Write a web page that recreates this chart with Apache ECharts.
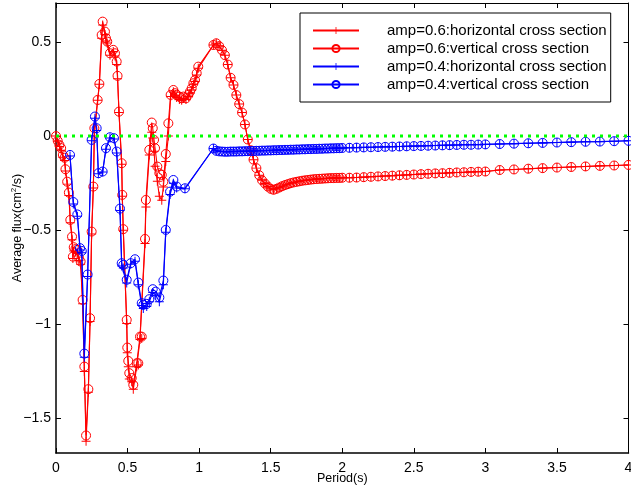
<!DOCTYPE html>
<html><head><meta charset="utf-8">
<script src="https://cdn.jsdelivr.net/npm/echarts@6/dist/echarts.min.js"></script>
<style>html,body{margin:0;padding:0;background:#fff}#c{width:631px;height:491px}</style>
</head><body><div id="c"></div>
<script>
// ---- tick labels ----
const xTicks = [0, 0.5, 1, 1.5, 2, 2.5, 3, 3.5, 4];
const yTicks = [-1.5, -1, -0.5, 0, 0.5];

// ---- amp = 0.6 (red) ----
const redEarlyPeriod = [0.000,0.012,0.024,0.036,0.048,0.060,0.066,0.078,0.090,0.100,0.112,0.118,0.124,0.136,0.148,0.160,0.172,0.186,0.198,0.210,0.226,0.238,0.249,0.261,0.268,0.291,0.303,0.319,0.326,0.342,0.349,0.358,0.377,0.400,0.412,0.424,0.430,0.440,0.459,0.463,0.470,0.494,0.498,0.505,0.512,0.529,0.540,0.564,0.575,0.587,0.599,0.622,0.628,0.652,0.669,0.676,0.685,0.692,0.708,0.722,0.739,0.750,0.767,0.785,0.801,0.820,0.832,0.843,0.862,0.878,0.890,0.908,0.925,0.936,0.948,0.960,0.971,0.983,0.994];
const redEarlyVert = [0.000,-0.025,-0.047,-0.064,-0.100,-0.115,-0.176,-0.242,-0.300,-0.445,-0.534,-0.640,-0.590,-0.600,-0.604,-0.645,-0.666,-0.870,-1.224,-1.590,-1.344,-0.967,-0.507,-0.268,0.042,0.192,0.277,0.537,0.608,0.555,0.520,0.502,0.440,0.458,0.440,0.396,0.320,0.130,-0.144,-0.312,-0.494,-0.976,-1.123,-1.194,-1.259,-1.285,-1.321,-1.206,-1.206,-1.065,-1.065,-0.546,-0.339,-0.073,0.072,0.042,-0.020,-0.064,-0.162,-0.197,-0.206,-0.242,-0.095,0.068,0.219,0.245,0.228,0.219,0.210,0.201,0.210,0.201,0.219,0.236,0.254,0.281,0.298,0.334,0.369];
const redEarlyHorz = [0.000,-0.030,-0.055,-0.075,-0.112,-0.130,-0.185,-0.255,-0.315,-0.460,-0.550,-0.650,-0.610,-0.615,-0.620,-0.660,-0.680,-0.890,-1.250,-1.620,-1.360,-0.985,-0.520,-0.275,0.000,0.190,0.275,0.520,0.590,0.540,0.505,0.495,0.430,0.450,0.425,0.380,0.305,0.125,-0.150,-0.320,-0.500,-0.995,-1.150,-1.225,-1.290,-1.305,-1.345,-1.225,-1.215,-1.080,-1.075,-0.570,-0.376,-0.100,0.020,-0.010,-0.080,-0.160,-0.240,-0.320,-0.340,-0.270,-0.135,0.000,0.210,0.235,0.215,0.205,0.195,0.190,0.200,0.195,0.210,0.228,0.245,0.275,0.290,0.325,0.360];

// ---- shared long-period sampling ----
const tailPeriod = [1.10,1.12,1.14,1.16,1.18,1.20,1.22,1.24,1.26,1.28,1.30,1.32,1.34,1.36,1.38,1.40,1.42,1.44,1.46,1.48,1.50,1.52,1.54,1.56,1.58,1.60,1.62,1.64,1.66,1.68,1.70,1.72,1.74,1.76,1.78,1.80,1.82,1.84,1.86,1.88,1.90,1.92,1.94,1.96,1.98,2.00,
  2.05,2.10,2.15,2.20,2.25,2.30,2.35,2.40,2.45,2.50,2.55,2.60,2.65,2.70,2.75,2.80,2.85,2.90,2.95,3.00,
  3.1,3.2,3.3,3.4,3.5,3.6,3.7,3.8,3.9,4.0];
const redTailFlux = [0.484,0.493,0.478,0.456,0.430,0.380,0.310,0.272,0.218,0.170,0.125,0.062,-0.018,-0.075,-0.125,-0.170,-0.208,-0.235,-0.252,-0.268,-0.280,-0.285,-0.280,-0.273,-0.266,-0.260,-0.255,-0.250,-0.246,-0.243,-0.240,-0.237,-0.235,-0.233,-0.231,-0.229,-0.228,-0.227,-0.226,-0.225,-0.224,-0.223,-0.223,-0.222,-0.222,-0.221,
  -0.221,-0.220,-0.218,-0.216,-0.214,-0.212,-0.210,-0.208,-0.206,-0.204,-0.202,-0.200,-0.198,-0.197,-0.195,-0.193,-0.192,-0.190,-0.189,-0.188,
  -0.180,-0.177,-0.173,-0.170,-0.167,-0.164,-0.161,-0.158,-0.156,-0.153];

// ---- amp = 0.4 (blue) ----
const blueEarlyPeriod = [0.098,0.121,0.149,0.168,0.180,0.198,0.221,0.249,0.272,0.284,0.296,0.326,0.349,0.377,0.405,0.424,0.447,0.459,0.470,0.494,0.522,0.552,0.575,0.599,0.610,0.634,0.652,0.676,0.697,0.722,0.750,0.767,0.797,0.820,0.843,0.901];
const blueEarlyVert = [-0.100,-0.350,-0.416,-0.595,-0.610,-1.155,-0.735,-0.020,0.104,0.042,-0.197,-0.188,-0.064,-0.006,-0.011,-0.082,-0.385,-0.675,-0.684,-0.763,-0.675,-0.654,-0.778,-0.887,-0.896,-0.891,-0.866,-0.813,-0.826,-0.857,-0.767,-0.498,-0.295,-0.233,-0.268,-0.277];
const blueEarlyHorz = [-0.105,-0.360,-0.425,-0.605,-0.620,-1.175,-0.745,-0.025,0.095,0.030,-0.200,-0.190,-0.070,-0.010,-0.015,-0.090,-0.395,-0.690,-0.700,-0.780,-0.680,-0.665,-0.790,-0.900,-0.915,-0.905,-0.880,-0.830,-0.845,-0.880,-0.790,-0.510,-0.310,-0.250,-0.275,-0.280];
const blueTailFlux = [-0.066,-0.078,-0.081,-0.082,-0.083,-0.083,-0.082,-0.082,-0.082,-0.081,-0.081,-0.080,-0.080,-0.079,-0.079,-0.078,-0.078,-0.077,-0.077,-0.076,-0.076,-0.075,-0.075,-0.074,-0.074,-0.073,-0.073,-0.072,-0.072,-0.071,-0.071,-0.070,-0.070,-0.069,-0.069,-0.068,-0.068,-0.067,-0.067,-0.066,-0.066,-0.065,-0.065,-0.064,-0.064,-0.063,
  -0.062,-0.061,-0.060,-0.059,-0.058,-0.057,-0.056,-0.055,-0.054,-0.053,-0.052,-0.051,-0.050,-0.049,-0.048,-0.047,-0.046,-0.046,-0.045,-0.044,
  -0.042,-0.040,-0.038,-0.036,-0.034,-0.032,-0.030,-0.029,-0.027,-0.025];

const zeroLine = [[0, 0], [4, 0]];

const seriesNames = ['amp=0.6:horizontal cross section','amp=0.6:vertical cross section','amp=0.4:horizontal cross section','amp=0.4:vertical cross section'];

// ---- build ----
function pairs(px, py) { return px.map((p, i) => [p, py[i]]); }
const redPeriod = redEarlyPeriod.concat(tailPeriod);
const bluePeriod = blueEarlyPeriod.concat(tailPeriod);
const PLUS = 'path://M-0.11,-1 L0.11,-1 L0.11,-0.11 L1,-0.11 L1,0.11 L0.11,0.11 L0.11,1 L-0.11,1 L-0.11,0.11 L-1,0.11 L-1,-0.11 L-0.11,-0.11 Z';
const RED = '#ff0000', BLUE = '#0000ff';
const FONT = 'Liberation Sans, Arial, Helvetica, sans-serif';

function mk(name, data, color, plus, z) {
  return {
    name, type: 'line', data, z,
    symbol: plus ? PLUS : 'circle',
    symbolSize: 9,
    showAllSymbol: true,
    lineStyle: { color, width: 1.1 },
    itemStyle: plus ? { color, borderWidth: 0 } : { color: 'rgba(0,0,0,0)', borderColor: color, borderWidth: 1 },
    emphasis: { disabled: true },
    animation: false
  };
}

const minus = v => (v < 0 ? '\u2212' + Math.abs(v) : String(v));

const option = {
  backgroundColor: '#fff',
  animation: false,
  grid: { left: 56, right: 2.5, top: 3, bottom: 38, containLabel: false, outerBoundsMode: 'none' },
  legend: {
    data: seriesNames,
    orient: 'vertical',
    left: 300, top: 13,
    itemWidth: 46, itemHeight: 9, itemGap: 3,
    padding: [10, 4, 10, 12],
    borderColor: '#000', borderWidth: 1, backgroundColor: '#fff',
    textStyle: { fontFamily: FONT, fontSize: 15, color: '#000', padding: [0, 0, 0, 23] },
    selectedMode: false
  },
  xAxis: [{
    type: 'value', min: 0, max: 4, interval: 0.5, position: 'bottom',
    axisLine: { onZero: false, lineStyle: { color: '#000', width: 1.5 } },
    axisTick: { inside: true, length: 5, lineStyle: { color: '#000', width: 1 } },
    axisLabel: { color: '#000', fontSize: 14, fontFamily: FONT, margin: 8, customValues: xTicks, formatter: minus },
    splitLine: { show: false },
    name: 'Period(s)', nameLocation: 'middle', nameGap: 19, nameMoveOverlap: false,
    nameTextStyle: { color: '#000', fontSize: 12.5, fontFamily: FONT }
  }, {
    type: 'value', min: 0, max: 4, interval: 0.5, position: 'top',
    axisLine: { onZero: false, lineStyle: { color: '#000', width: 1 } },
    axisTick: { inside: true, length: 5, lineStyle: { color: '#000', width: 1 } },
    axisLabel: { show: false }, splitLine: { show: false }
  }],
  yAxis: [{
    type: 'value', min: -1.683, max: 0.707, position: 'left',
    axisLine: { onZero: false, lineStyle: { color: '#000', width: 1.5 } },
    axisTick: { inside: true, length: 5, customValues: yTicks, lineStyle: { color: '#000', width: 1 } },
    axisLabel: { color: '#000', fontSize: 14, fontFamily: FONT, margin: 5, customValues: yTicks, formatter: minus },
    splitLine: { show: false },
    name: '{a|Average flux(cm}{s|2}{a|/s)}', nameLocation: 'middle', nameRotate: 90, nameGap: 31, nameMoveOverlap: false,
    nameTextStyle: { color: '#000', fontFamily: FONT, rich: {
      a: { fontSize: 12.5, fontFamily: FONT, color: '#000' },
      s: { fontSize: 8, fontFamily: FONT, color: '#000', padding: [0, 0, 7, 0] } } }
  }, {
    type: 'value', min: -1.683, max: 0.707, position: 'right',
    axisLine: { onZero: false, lineStyle: { color: '#000', width: 1 } },
    axisTick: { inside: true, length: 5, customValues: yTicks, lineStyle: { color: '#000', width: 1 } },
    axisLabel: { show: false }, splitLine: { show: false }
  }],
  series: [
    mk(seriesNames[0], pairs(redPeriod, redEarlyHorz.concat(redTailFlux)), RED, true, 2),
    mk(seriesNames[1], pairs(redPeriod, redEarlyVert.concat(redTailFlux)), RED, false, 3),
    mk(seriesNames[2], pairs(bluePeriod, blueEarlyHorz.concat(blueTailFlux)), BLUE, true, 4),
    mk(seriesNames[3], pairs(bluePeriod, blueEarlyVert.concat(blueTailFlux)), BLUE, false, 5),
    { type: 'line', data: zeroLine, symbol: 'none', silent: true, z: 6,
      lineStyle: { color: '#00ff00', width: 3, type: [3, 5] }, animation: false }
  ]
};

const chart = echarts.init(document.getElementById('c'), null, { renderer: 'canvas' });
chart.setOption(option);
</script>
</body></html>
